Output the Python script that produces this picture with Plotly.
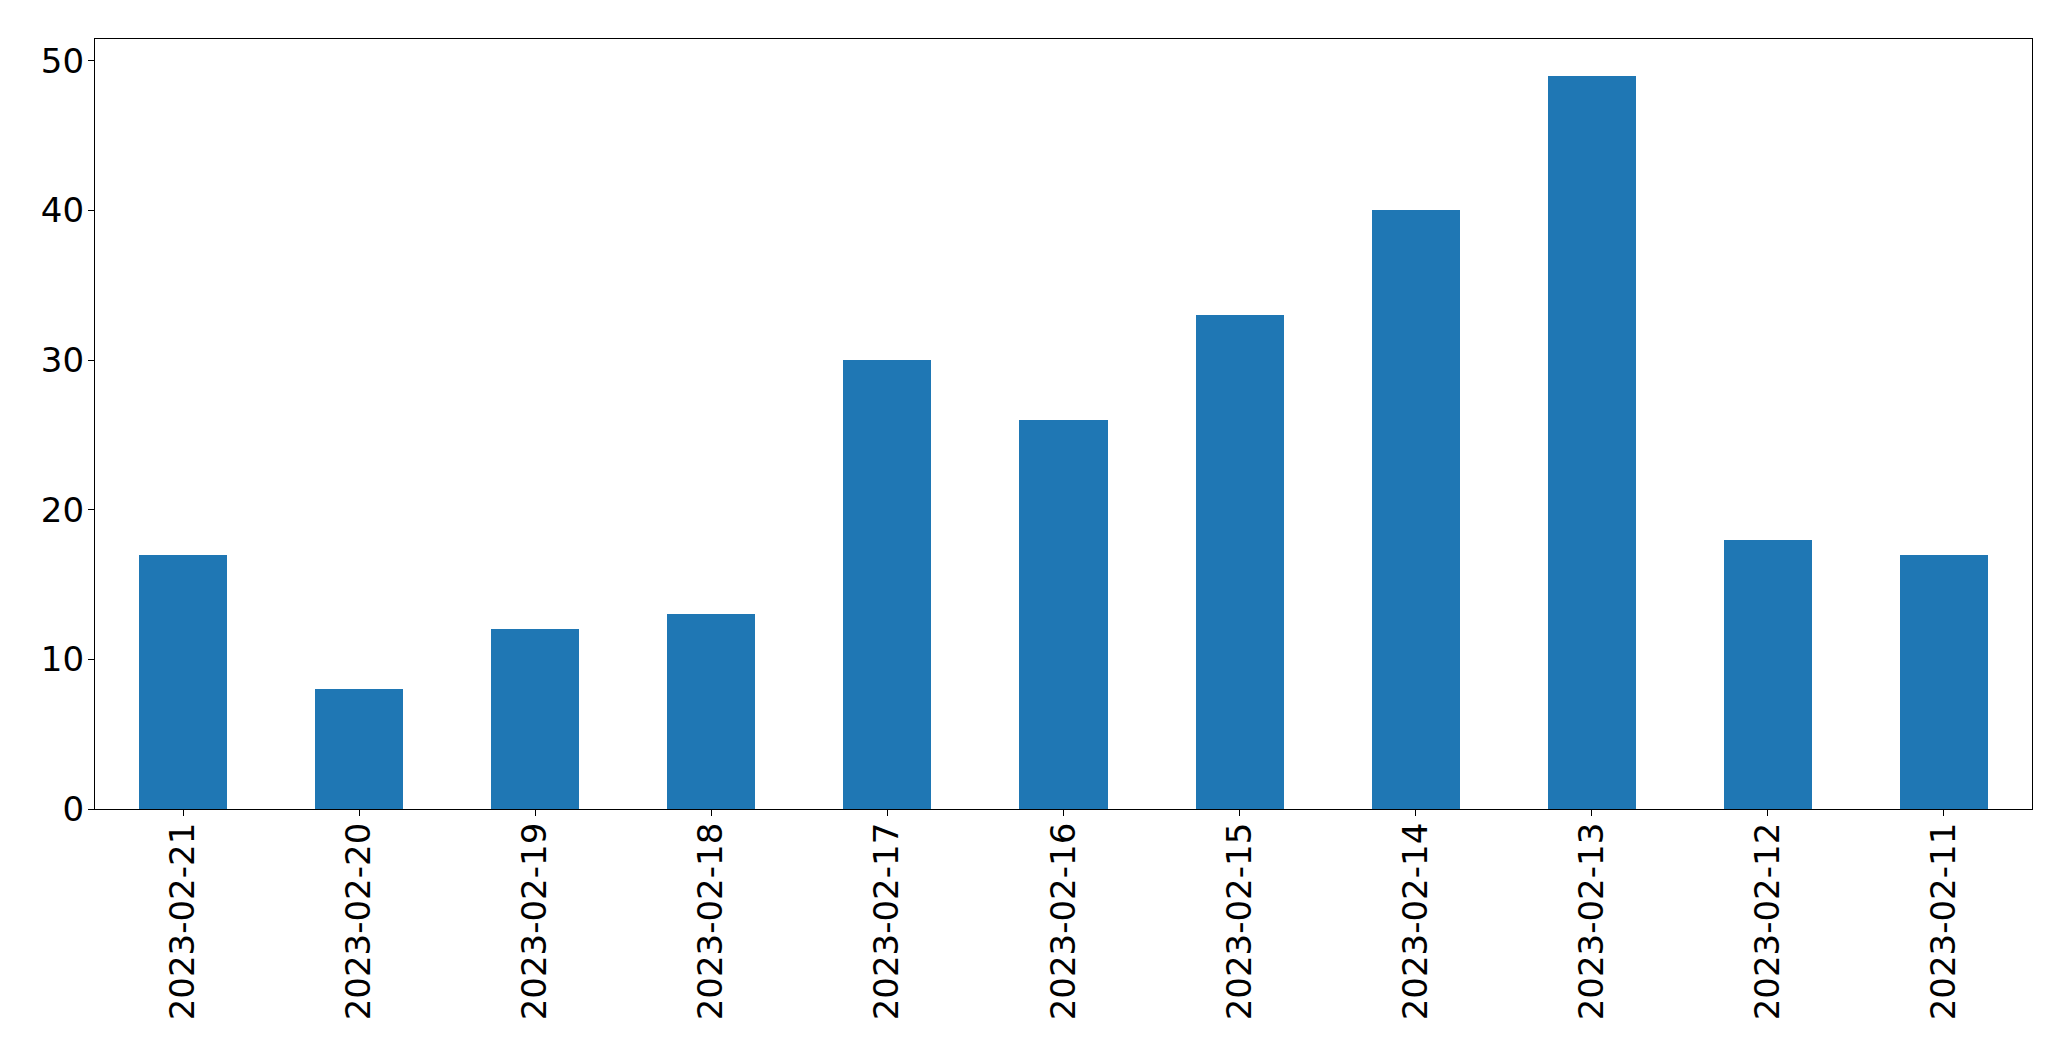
import plotly.graph_objects as go

dates = ["2023-02-21", "2023-02-20", "2023-02-19", "2023-02-18", "2023-02-17",
         "2023-02-16", "2023-02-15", "2023-02-14", "2023-02-13", "2023-02-12", "2023-02-11"]
counts = [17, 8, 12, 13, 30, 26, 33, 40, 49, 18, 17]
y_ticks = [0, 10, 20, 30, 40, 50]

fig = go.Figure(go.Bar(x=list(range(len(dates))), y=counts, width=0.5,
                       marker=dict(color="#1f77b4", line=dict(width=0))))

font = dict(family="DejaVu Sans", size=34, color="black")
fig.update_layout(
    template="none",
    width=2071, height=1061,
    margin=dict(l=95, r=39, t=39, b=252, autoexpand=False),
    plot_bgcolor="white", paper_bgcolor="white",
    showlegend=False, bargap=0,
    font=font,
)
fig.update_xaxes(
    range=[-0.5, len(dates) - 0.5], automargin=False,
    tickmode="array", tickvals=list(range(len(dates))), ticktext=dates,
    tickangle=-90, ticks="outside", ticklen=6, tickwidth=1.3, tickcolor="black",
    showline=True, linecolor="black", linewidth=1.3, mirror=True,
    showgrid=False, zeroline=False, tickfont=font, ticklabelstandoff=-7,
)
fig.update_yaxes(
    range=[0, max(counts) * 1.05], automargin=False,
    tickmode="array", tickvals=y_ticks,
    ticks="outside", ticklen=6, tickwidth=1.3, tickcolor="black",
    showline=True, linecolor="black", linewidth=1.3, mirror=True,
    showgrid=False, zeroline=False, tickfont=font, ticklabelstandoff=-3,
)
fig.write_html("out.html", config={"displayModeBar": False},
               post_script="document.body.style.margin='0';document.body.style.overflow='hidden';")
